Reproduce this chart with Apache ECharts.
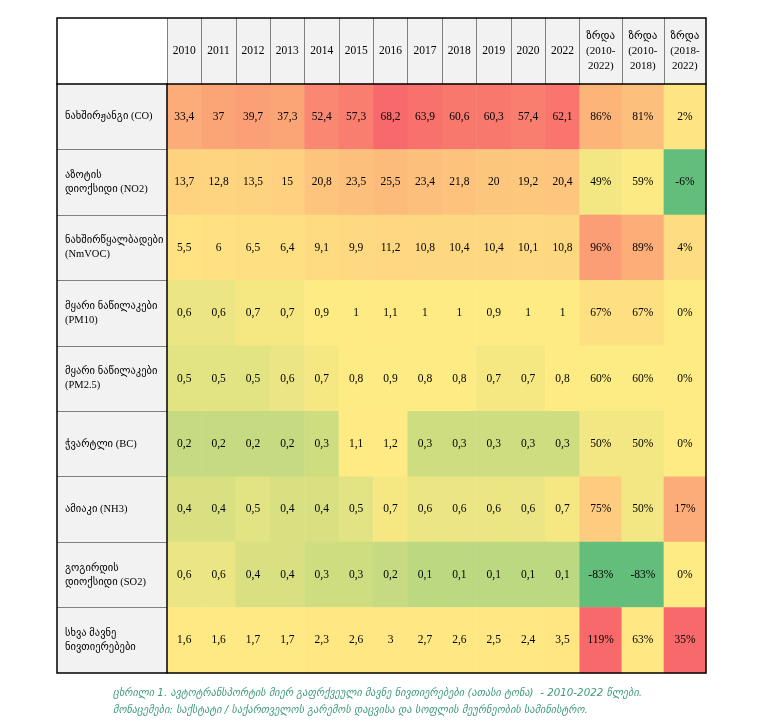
<!DOCTYPE html>
<html>
<head>
<meta charset="utf-8">
<script src="https://cdn.jsdelivr.net/npm/echarts@6/dist/echarts.min.js"></script>
<style>html,body{margin:0;padding:0;background:#fff}#c{width:768px;height:728px}</style>
</head>
<body>
<div id="c"></div>
<script>
// ---- data ----
const years = ['2010','2011','2012','2013','2014','2015','2016','2017','2018','2019','2020','2022'];
const growthHeaders = ['ზრდა\n(2010-\n2022)', 'ზრდა\n(2010-\n2018)', 'ზრდა\n(2018-\n2022)'];
const rowLabels = [
  'ნახშირჟანგი (CO)',
  'აზოტის\nდიოქსიდი (NO2)',
  'ნახშირწყალბადები\n(NmVOC)',
  'მყარი ნაწილაკები\n(PM10)',
  'მყარი ნაწილაკები\n(PM2.5)',
  'ჭვარტლი (BC)',
  'ამიაკი (NH3)',
  'გოგირდის\nდიოქსიდი (SO2)',
  'სხვა მავნე\nნივთიერებები'
];
const co    = [33.4, 37, 39.7, 37.3, 52.4, 57.3, 68.2, 63.9, 60.6, 60.3, 57.4, 62.1];
const no2   = [13.7, 12.8, 13.5, 15, 20.8, 23.5, 25.5, 23.4, 21.8, 20, 19.2, 20.4];
const nmvoc = [5.5, 6, 6.5, 6.4, 9.1, 9.9, 11.2, 10.8, 10.4, 10.4, 10.1, 10.8];
const pm10  = [0.6, 0.6, 0.7, 0.7, 0.9, 1, 1.1, 1, 1, 0.9, 1, 1];
const pm25  = [0.5, 0.5, 0.5, 0.6, 0.7, 0.8, 0.9, 0.8, 0.8, 0.7, 0.7, 0.8];
const bc    = [0.2, 0.2, 0.2, 0.2, 0.3, 1.1, 1.2, 0.3, 0.3, 0.3, 0.3, 0.3];
const nh3   = [0.4, 0.4, 0.5, 0.4, 0.4, 0.5, 0.7, 0.6, 0.6, 0.6, 0.6, 0.7];
const so2   = [0.6, 0.6, 0.4, 0.4, 0.3, 0.3, 0.2, 0.1, 0.1, 0.1, 0.1, 0.1];
const other = [1.6, 1.6, 1.7, 1.7, 2.3, 2.6, 3, 2.7, 2.6, 2.5, 2.4, 3.5];
const growth2010_2022 = [86, 49, 96, 67, 60, 50, 75, -83, 119];
const growth2010_2018 = [81, 59, 89, 67, 60, 50, 50, -83, 63];
const growth2018_2022 = [2, -6, 4, 0, 0, 0, 17, 0, 35];
const captionLines = [
  'ცხრილი 1. ავტოტრანსპორტის მიერ გაფრქვეული მავნე ნივთიერებები (ათასი ტონა)  - 2010-2022 წლები.',
  'მონაცემები: საქსტატი / საქართველოს გარემოს დაცვისა და სოფლის მეურნეობის სამინისტრო.'
];

// ---- colour-scale helpers (3-colour scale: min / median / max) ----
const yearRows = [co, no2, nmvoc, pm10, pm25, bc, nh3, so2, other];
function median(a){const s=a.slice().sort((x,y)=>x-y);const n=s.length;return n%2?s[(n-1)/2]:(s[n/2-1]+s[n/2])/2;}
function scaler(arr){
  const lo=Math.min(...arr), hi=Math.max(...arr), mid=median(arr);
  return v => v<=mid ? (mid===lo?0:(v-mid)/(mid-lo)) : (v-mid)/(hi-mid);
}
const allTable = [].concat(...yearRows, growth2010_2022.map(v=>v/100), growth2010_2018.map(v=>v/100), growth2018_2022.map(v=>v/100));
const yearScore = scaler(allTable);
const growthABScore = scaler(growth2010_2022.concat(growth2010_2018));
const growthCScore = scaler(growth2018_2022);

const yearData = [];
yearRows.forEach((row, r) => row.forEach((v, c) => yearData.push([c, r, v, yearScore(v)])));
const growthCols = [growth2010_2022, growth2010_2018, growth2018_2022];
const growthData = [];
growthCols.forEach((col, c) => col.forEach((v, r) => growthData.push([c, r, v, c < 2 ? growthABScore(v) : growthCScore(v)])));

// ---- layout ----
const L = 57, T = 18, W = 649, H = 655;
const labelW = 110, headH = 66;
const yearsW = 412.7;
const dataL = L + labelW, pctL = dataL + yearsW, pctW = L + W - pctL;
const bodyT = T + headH, bodyH = H - headH;

const FONT = "'Liberation Serif', 'DejaVu Sans', serif";
const numFmt = v => String(v).replace('.', ',');
const hidden = {show:false};

const chart = echarts.init(document.getElementById('c'), null, {renderer:'canvas'});
chart.setOption({
  animation:false,
  backgroundColor:'#fff',
  title:{
    text: captionLines.join('\n'),
    left: 108, top: 680,
    textStyle:{fontStyle:'italic', fontWeight:'normal', color:'#3f9b7c', fontSize:10.3, lineHeight:17, fontFamily:"'DejaVu Sans', sans-serif"}
  },
  grid:[
    {left:L, top:T, width:W, height:H, show:true, borderColor:'#000', borderWidth:1.5, backgroundColor:'transparent', z:10},
    {left:dataL, top:T, width:yearsW, height:headH, show:true, backgroundColor:'#F2F2F2', borderWidth:0},
    {left:pctL, top:T, width:pctW, height:headH, show:true, backgroundColor:'#F2F2F2', borderWidth:0},
    {left:L, top:bodyT, width:labelW, height:bodyH, show:true, backgroundColor:'#F2F2F2', borderWidth:0},
    {left:dataL, top:bodyT, width:yearsW, height:bodyH, show:false},
    {left:pctL, top:bodyT, width:pctW, height:bodyH, show:false}
  ],
  xAxis:[
    {gridIndex:0, type:'value', show:false},
    {gridIndex:1, type:'category', data:years, position:'top',
      axisLine:hidden, axisTick:hidden,
      axisLabel:{inside:true, margin:33, verticalAlign:'middle', interval:0, color:'#000', fontSize:11.5, fontFamily:FONT},
      splitLine:{show:true, interval:0, lineStyle:{color:'#808080', width:1}}},
    {gridIndex:2, type:'category', data:growthHeaders, position:'top',
      axisLine:hidden, axisTick:hidden,
      axisLabel:{inside:true, margin:33, verticalAlign:'middle', interval:0, color:'#000', fontSize:11, lineHeight:15, fontFamily:FONT},
      splitLine:{show:true, interval:0, showMinLine:false, showMaxLine:false, lineStyle:{color:'#808080', width:1}}},
    {gridIndex:3, type:'value', position:'top', min:0, max:1, z:6,
      axisLine:{show:true, lineStyle:{color:'#000', width:1.5}}, axisTick:hidden, axisLabel:hidden, splitLine:hidden},
    {gridIndex:4, type:'category', data:years, position:'top', z:6,
      axisLine:{show:true, lineStyle:{color:'#000', width:1.5}}, axisTick:hidden, axisLabel:hidden, splitLine:hidden},
    {gridIndex:5, type:'category', data:growthHeaders, position:'top', z:6,
      axisLine:{show:true, lineStyle:{color:'#000', width:1.5}}, axisTick:hidden, axisLabel:hidden, splitLine:hidden}
  ],
  yAxis:[
    {gridIndex:0, type:'value', show:false},
    {gridIndex:1, type:'value', show:false},
    {gridIndex:2, type:'value', show:false},
    {gridIndex:3, type:'category', data:rowLabels, inverse:true,
      axisLine:hidden, axisTick:hidden,
      axisLabel:{inside:true, align:'left', margin:8, interval:0, color:'#000', fontSize:10.5, lineHeight:14, fontFamily:FONT},
      splitLine:{show:true, interval:0, showMinLine:false, showMaxLine:false, lineStyle:{color:'#808080', width:1}}},
    {gridIndex:4, type:'category', data:rowLabels, inverse:true, z:6,
      axisLine:{show:true, lineStyle:{color:'#000', width:1.5}}, axisTick:hidden, axisLabel:hidden, splitLine:hidden},
    {gridIndex:5, type:'category', data:rowLabels, inverse:true, show:false}
  ],
  visualMap:{
    type:'continuous', show:false, dimension:3, min:-1, max:1, seriesIndex:[0,1],
    inRange:{color:['#63BE7B','#FFEB84','#F8696B']}
  },
  series:[
    {type:'heatmap', xAxisIndex:4, yAxisIndex:4, data:yearData,
      label:{show:true, color:'#000', fontSize:11.5, fontFamily:FONT, formatter:p=>numFmt(p.value[2])},
      itemStyle:{borderWidth:0}, emphasis:{disabled:true}},
    {type:'heatmap', xAxisIndex:5, yAxisIndex:5, data:growthData,
      label:{show:true, color:'#000', fontSize:11.5, fontFamily:FONT, formatter:p=>p.value[2]+'%'},
      itemStyle:{borderWidth:0}, emphasis:{disabled:true}}
  ]
});
</script>
</body>
</html>
